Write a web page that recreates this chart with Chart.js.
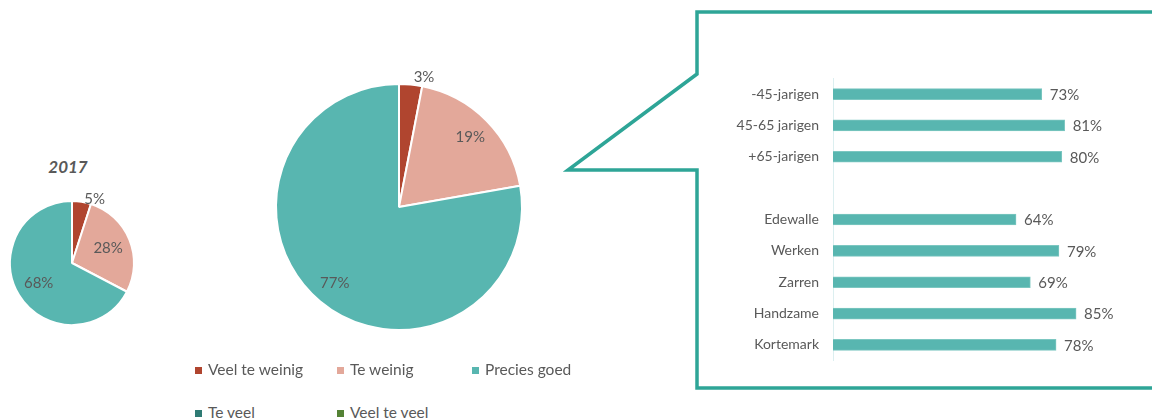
<!DOCTYPE html>
<html><head><meta charset="utf-8">
<script src="https://cdn.jsdelivr.net/npm/chart.js@4.4.1/dist/chart.umd.min.js"></script>
<style>
html,body{margin:0;padding:0;background:#fff;width:1152px;height:419px;overflow:hidden;font-family:Lato,"Open Sans",sans-serif;}
.abs{position:absolute;}
#title2017{left:36px;top:156px;width:64px;text-align:center;font-weight:bold;font-style:italic;font-size:17px;color:#595959;}
.leg{position:absolute;font-size:15.5px;color:#595959;white-space:nowrap;line-height:18px;}
.leg span.box{display:inline-block;width:7px;height:7px;margin-right:6px;vertical-align:1px;}
</style></head>
<body>
<svg class="abs" style="left:0;top:0" width="1152" height="419">
  <polyline points="1160,12 697,12 697,74 568,170 697,170 697,388 1160,388" fill="none" stroke="#2EA597" stroke-width="3.5" stroke-linejoin="miter"/>
</svg>
<div id="title2017" class="abs">2017</div>
<canvas id="pieSmall" class="abs" style="left:0;top:180px" width="144" height="166"></canvas>
<canvas id="pieBig" class="abs" style="left:259px;top:47px" width="280" height="320"></canvas>
<canvas id="bars" class="abs" style="left:700px;top:56px" width="452" height="327"></canvas>
<div id="legend"></div>
<script>
// ---- data ----
const answerCategories = ["Veel te weinig", "Te weinig", "Precies goed", "Te veel", "Veel te veel"];
const answerColors = ["#B0452F", "#E3A89A", "#58B6B0", "#2F7B74", "#548235"];
const values2017 = [5, 28, 68, 0, 0];
const valuesNow = [3, 19, 77, 0, 0];
const groupLabels = ["-45-jarigen", "45-65 jarigen", "+65-jarigen", "", "Edewalle", "Werken", "Zarren", "Handzame", "Kortemark"];
const groupValues = [73, 81, 80, null, 64, 79, 69, 85, 78];

const TEXT = "#595959";
const FONT = "Lato, 'Open Sans', sans-serif";

// pie labels plugin
const pieLabels = {
  id: 'pieLabels',
  afterDatasetsDraw(chart) {
    const ctx = chart.ctx;
    const meta = chart.getDatasetMeta(0);
    const data = chart.data.datasets[0].data;
    ctx.save();
    ctx.font = "15px " + FONT;
    ctx.fillStyle = TEXT;
    ctx.textBaseline = 'middle';
    meta.data.forEach((arc, i) => {
      const v = data[i];
      if (!v) return;
      const mid = (arc.startAngle + arc.endAngle) / 2;
      const r = arc.outerRadius;
      if (v < 6) {
        const x = arc.x + Math.cos(mid) * r * 1.08;
        const y = arc.y + Math.sin(mid) * r * 1.08;
        ctx.textAlign = 'left';
        ctx.fillText(v + "%", x + 2, y + 2);
      } else {
        const d = r - 23;
        const x = arc.x + Math.cos(mid) * d;
        const y = arc.y + Math.sin(mid) * d;
        ctx.textAlign = 'center';
        ctx.fillText(v + "%", x, y);
      }
    });
    ctx.restore();
  }
};

function makePie(id, values, radius) {
  return new Chart(document.getElementById(id), {
    type: 'pie',
    data: { labels: answerCategories, datasets: [{ data: values, backgroundColor: answerColors, borderColor: '#ffffff', borderWidth: 2, hoverOffset: 0 }] },
    options: {
      responsive: false, animation: false, radius: radius,
      layout: { padding: 0 },
      plugins: { legend: { display: false }, tooltip: { enabled: false } }
    },
    plugins: [pieLabels]
  });
}
makePie('pieSmall', values2017, 62);
makePie('pieBig', valuesNow, 123);

// bar labels plugin
const barLabels = {
  id: 'barLabels',
  afterDatasetsDraw(chart) {
    const ctx = chart.ctx;
    const meta = chart.getDatasetMeta(0);
    const data = chart.data.datasets[0].data;
    ctx.save();
    ctx.font = "15px " + FONT;
    ctx.fillStyle = TEXT;
    ctx.textBaseline = 'middle';
    ctx.textAlign = 'left';
    meta.data.forEach((bar, i) => {
      if (data[i] == null) return;
      ctx.fillText(data[i] + "%", bar.x + 8, bar.y + 1);
    });
    ctx.restore();
  }
};

new Chart(document.getElementById('bars'), {
  type: 'bar',
  data: { labels: groupLabels, datasets: [{ data: groupValues, backgroundColor: '#58B6B0', borderColor: '#7CC7C1', borderWidth: 1, barThickness: 11 }] },
  options: {
    indexAxis: 'y', responsive: false, animation: false,
    layout: { padding: { left: 0, right: 33, top: 7, bottom: 10 } },
    scales: {
      x: { display: false, min: 0, max: 100 },
      y: {
        afterFit(scale) { scale.width = 133; },
        grid: { color: 'transparent', drawTicks: false },
        border: { display: true, color: '#DCEFF0', width: 1 },
        ticks: { color: TEXT, font: { family: FONT, size: 14 }, padding: 14 }
      }
    },
    plugins: { legend: { display: false }, tooltip: { enabled: false } }
  },
  plugins: [barLabels]
});

// legend (HTML, from arrays)
const legendPos = [[195, 360], [337, 360], [472, 360], [195, 403], [337, 403]];
const leg = document.getElementById('legend');
answerCategories.forEach((c, i) => {
  const d = document.createElement('div');
  d.className = 'leg';
  d.style.left = legendPos[i][0] + 'px';
  d.style.top = legendPos[i][1] + 'px';
  d.innerHTML = '<span class="box" style="background:' + answerColors[i] + '"></span>' + c;
  leg.appendChild(d);
});
</script>
</body></html>
